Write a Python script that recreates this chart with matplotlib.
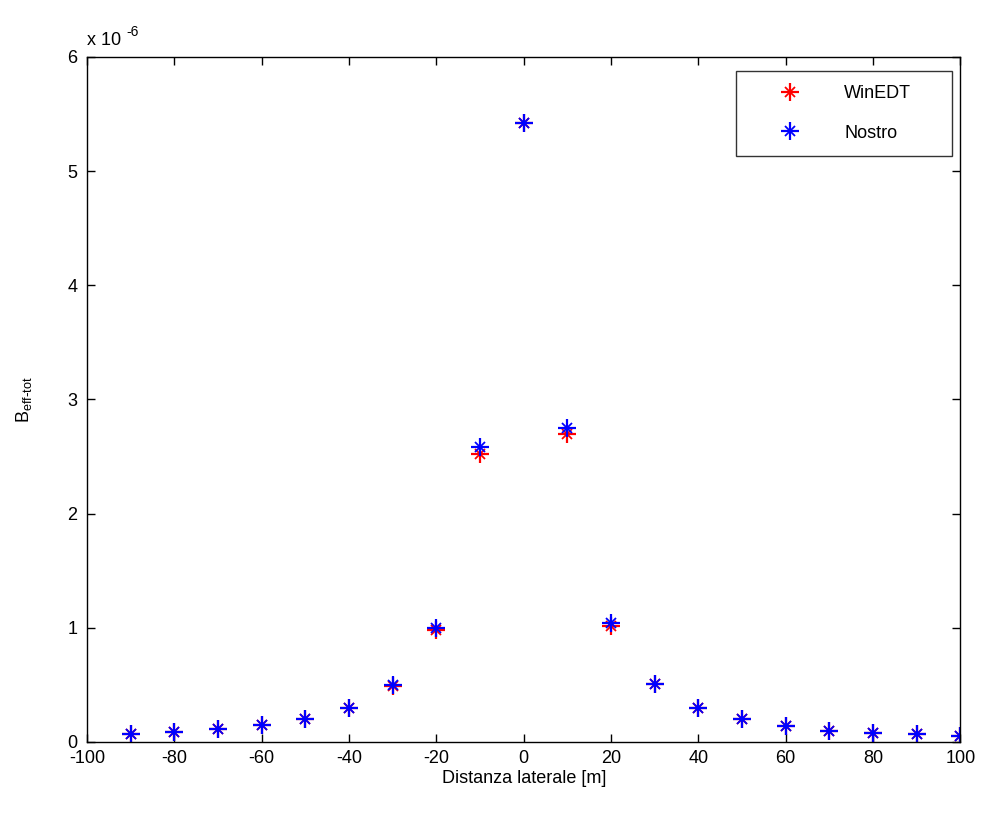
import numpy as np
import matplotlib.pyplot as plt
from matplotlib.ticker import FuncFormatter, MultipleLocator
from matplotlib.legend_handler import HandlerTuple

plt.rcParams['font.family'] = ['Liberation Sans', 'DejaVu Sans']
plt.rcParams['axes.unicode_minus'] = False

# lateral distance [m]
distanza = [-90, -80, -70, -60, -50, -40, -30, -20, -10, 0,
            10, 20, 30, 40, 50, 60, 70, 80, 90, 100]

# B_eff-tot values (x 1e-6)
winedt = [0.07, 0.09, 0.11, 0.15, 0.20, 0.30, 0.49, 0.98, 2.52, 5.42,
          2.70, 1.02, 0.51, 0.30, 0.20, 0.14, 0.10, 0.08, 0.07, 0.05]
nostro = [0.07, 0.09, 0.11, 0.15, 0.20, 0.30, 0.50, 1.00, 2.58, 5.42,
          2.75, 1.04, 0.51, 0.30, 0.20, 0.14, 0.10, 0.08, 0.07, 0.05]

x = np.array(distanza)
y_w = np.array(winedt) * 1e-6
y_n = np.array(nostro) * 1e-6

fig = plt.figure(figsize=(9.81, 8.14), dpi=100)
ax = fig.add_axes([0.0887, 0.0885, 0.8903, 0.8415])


def asterisk(xs, ys, color):
    # matlab-like '*' marker: a long '+' with a short 'x' on top
    p, = ax.plot(xs, ys, linestyle='none', marker='+', color=color,
                 markersize=13, markeredgewidth=1.6)
    q, = ax.plot(xs, ys, linestyle='none', marker='x', color=color,
                 markersize=7, markeredgewidth=1.3)
    return (p, q)


h_w = asterisk(x, y_w, '#ff0000')
h_n = asterisk(x, y_n, '#0000ff')

ax.set_xlim(-100, 100)
ax.set_ylim(0, 6e-6)
ax.xaxis.set_major_locator(MultipleLocator(20))
ax.yaxis.set_major_locator(MultipleLocator(1e-6))
ax.yaxis.set_major_formatter(FuncFormatter(lambda v, p: '%g' % round(v * 1e6, 6)))

ax.tick_params(direction='in', top=True, right=True, length=6, width=1,
               labelsize=13)
ax.tick_params(axis='x', pad=6)
ax.tick_params(axis='y', pad=7)
for s in ax.spines.values():
    s.set_linewidth(1)

# exponent label, matlab style
ax.text(0.0, 1.012, 'x 10', transform=ax.transAxes, fontsize=13,
        ha='left', va='bottom')
ax.annotate('-6', xy=(0.0, 1.012), xycoords='axes fraction',
            xytext=(28, 7), textcoords='offset points', fontsize=10,
            ha='left', va='bottom')

ax.set_xlabel('Distanza laterale [m]', fontsize=13, labelpad=2)
ax.set_ylabel(r'B$_{\mathregular{eff\text{-}tot}}$', fontsize=13, labelpad=24)

leg = ax.legend([h_w, h_n], ['WinEDT', 'Nostro'],
                handler_map={tuple: HandlerTuple(ndivide=1, pad=0)},
                loc='upper left', bbox_to_anchor=(0.743, 0.980, 0.247, 0.0),
                mode='expand', fontsize=13, frameon=True, fancybox=False,
                edgecolor='black', borderpad=0.8, handletextpad=0.8,
                labelspacing=1.25, handlelength=4.4, borderaxespad=0.0)
leg.get_frame().set_linewidth(1)

fig.savefig('out.png', dpi=100, facecolor='white')
